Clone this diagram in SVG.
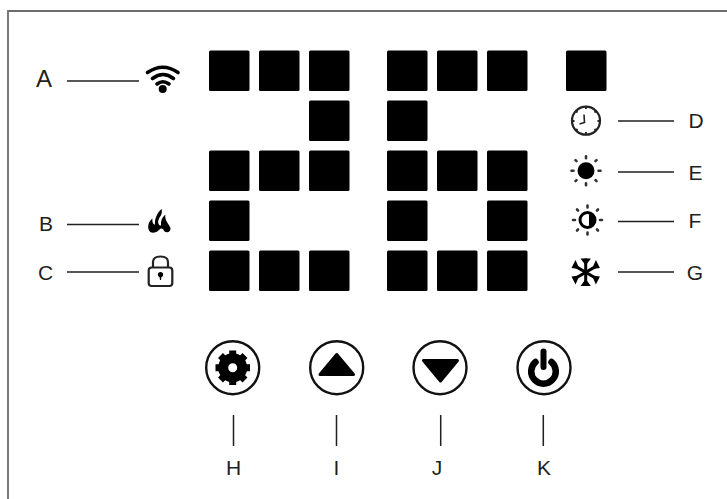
<svg xmlns="http://www.w3.org/2000/svg" width="727" height="499" viewBox="0 0 727 499">
<style>
text{font-family:"Liberation Sans",Arial,sans-serif;font-size:21px;fill:#231f20;text-anchor:middle}
.seg{fill:#000}
.ln{stroke:#231f20;stroke-width:1.5;fill:none}
.btn{fill:#fff;stroke:#111;stroke-width:2.400}
.ray{stroke:#333;stroke-width:2.600;stroke-linecap:round}
</style>
<defs>
<rect id="s" class="seg" width="40.5" height="40.5" rx="1.5"/>
<g id="rays">
<path class="ray" d="M0-12.500V-14.500M0 12.500V14.500M-12.500 0H-14.500M12.500 0H14.500M-9.500-9.500-10.500-10.500M9.500-9.500 10.500-10.500M-9.500 9.500-10.500 10.500M9.500 9.500 10.500 10.500"/>
</g>
</defs>
<rect width="727" height="499" fill="#fff"/>
<path id="frame" d="M8 499V11H727" fill="none" stroke="#6d6d6d" stroke-width="1.800"/>
<g id="segments">
<use href="#s" x="209" y="50.500"/><use href="#s" x="259" y="50.500"/><use href="#s" x="309" y="50.500"/>
<use href="#s" x="309" y="100.500"/>
<use href="#s" x="209" y="150.500"/><use href="#s" x="259" y="150.500"/><use href="#s" x="309" y="150.500"/>
<use href="#s" x="209" y="200.500"/>
<use href="#s" x="209" y="250.500"/><use href="#s" x="259" y="250.500"/><use href="#s" x="309" y="250.500"/>
<use href="#s" x="387" y="50.500"/><use href="#s" x="437" y="50.500"/><use href="#s" x="487" y="50.500"/>
<use href="#s" x="387" y="100.500"/>
<use href="#s" x="387" y="150.500"/><use href="#s" x="437" y="150.500"/><use href="#s" x="487" y="150.500"/>
<use href="#s" x="387" y="200.500"/><use href="#s" x="487" y="200.500"/>
<use href="#s" x="387" y="250.500"/><use href="#s" x="437" y="250.500"/><use href="#s" x="487" y="250.500"/>
<use href="#s" x="566" y="50.500"/>
</g>
<g id="connectors">
<path class="ln" d="M67 81H139M67 224.500H139M67 272H139M618 121H674M618 172H674M618 221.500H674M618 272H674M233.500 415V446M336.500 415V446M440.700 415V446M543.300 415V446"/>
</g>
<g id="node-a"><text x="44" y="87" style="font-size:24px">A</text>
<path d="M147.500 72.500Q163 62 178 72.500M152.500 78.500Q163 70.500 173.500 78.500M157 84Q163 79.500 169 84" fill="none" stroke="#000" stroke-width="3.600" stroke-linecap="round"/><circle cx="162.700" cy="89" r="4"/></g>
<g id="node-b"><text x="46" y="231">B</text>
<path d="M161.500 209C163 214 160 216 158.500 220C157.500 223 159 226 161 225.500C160.500 221 162 217 165.500 214.500C164 220 169 224 170.500 228C171 232 167 233.500 164 231C163 228 161 228 159 230C156 233 151 234 149 230.500C147 226 149 221 152.500 218.500C152 222 153 224.500 155 224.500C154.500 219 157 213 161.500 209Z"/></g>
<g id="node-c"><text x="45.500" y="280">C</text>
<rect x="148.700" y="267.500" width="23.600" height="18.500" rx="3" fill="none" stroke="#222" stroke-width="2.200"/>
<path d="M153 267.500V262Q153 256.500 160.500 256.500Q168 256.500 168 262V267.500" fill="none" stroke="#222" stroke-width="2.200"/>
<circle cx="160.500" cy="274.500" r="2.600"/><path d="M159.300 275H161.700L161 280H160Z"/></g>
<g id="node-d"><text x="696" y="128">D</text>
<circle cx="586" cy="120.700" r="14" fill="none" stroke="#222" stroke-width="2.200"/>
<path d="M586 106.500V109M586 132V135M571.500 121H574.500M597.500 121H600.500M576 111 577.500 112.500M596 111 594.500 112.500M576 130.500 577.500 129M596 130.500 594.500 129" stroke="#222" stroke-width="1.800"/>
<path d="M584 114.500 584.500 122.500 579.500 124" fill="none" stroke="#222" stroke-width="1.600"/></g>
<g id="node-e"><text x="695.500" y="180">E</text>
<circle cx="586" cy="170.700" r="8.500"/><use href="#rays" x="586" y="170.700"/></g>
<g id="node-f"><text x="695" y="228">F</text>
<circle cx="587.500" cy="220" r="7.500" fill="#fff" stroke="#000" stroke-width="3"/><path d="M589 214A6 6 0 0 1 589 226Z"/><use href="#rays" x="587.500" y="220"/></g>
<g id="node-g"><text x="695" y="279.500">G</text>
<path d="M585.700 258.500V286M573.800 265.400 597.600 279.200M573.800 279.200 597.600 265.400" stroke="#000" stroke-width="3"/>
<path d="M585.700 265.500 580.500 258.500H590.900ZM585.700 279 580.500 286H590.900ZM579.500 269 571.500 268 575.500 260ZM591.900 275.500 599.900 276.500 595.900 284.500ZM579.500 275.500 571.500 276.500 575.500 284.500ZM591.900 269 599.900 268 595.900 260Z"/></g>
<g id="node-h"><circle class="btn" cx="232.700" cy="367.700" r="26.500"/>
<circle cx="232.700" cy="367.700" r="9.500" fill="none" stroke="#000" stroke-width="10"/>
<path d="M232.700 350.500V355M232.700 380.500V385M215.500 367.700H220M245.500 367.700H250M220.500 355.500 223.500 358.500M242 377 245 380M220.500 380 223.500 377M242 358.500 245 355.500" stroke="#000" stroke-width="7"/>
<text x="233.500" y="475">H</text></g>
<g id="node-i"><circle class="btn" cx="336.700" cy="367.700" r="26.500"/>
<path d="M336.700 354.500L353.500 374.500H320Z" stroke="#000" stroke-width="3" stroke-linejoin="round"/>
<text x="336.500" y="475">I</text></g>
<g id="node-j"><circle class="btn" cx="440" cy="367.700" r="26.500"/>
<path d="M440.500 381L423.500 360.500H457.500Z" stroke="#000" stroke-width="3" stroke-linejoin="round"/>
<text x="437" y="475">J</text></g>
<g id="node-k"><circle class="btn" cx="544" cy="367.700" r="26.500"/>
<path d="M535.500 362A12.300 12.300 0 1 0 551.500 362" fill="none" stroke="#000" stroke-width="6.500" stroke-linecap="round"/>
<path d="M543.500 351.500V367" stroke="#000" stroke-width="6" stroke-linecap="round"/>
<text x="544" y="475">K</text></g>
</svg>
